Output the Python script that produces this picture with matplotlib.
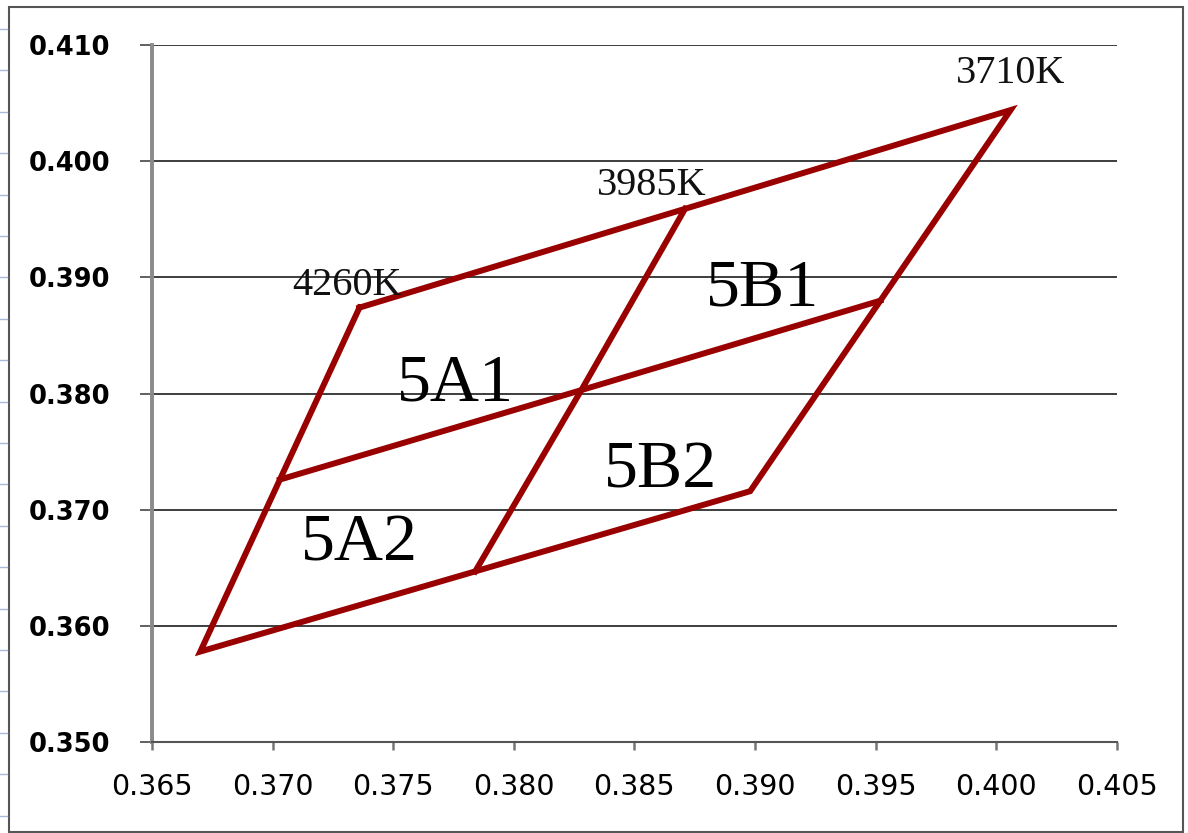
#Import required libraries
import numpy as np
import matplotlib
matplotlib.use("Agg")
import matplotlib.pyplot as plt
from matplotlib.lines import Line2D
from matplotlib.patches import Rectangle

#Chromaticity points (x, y) of the 4000K quadrangle and its split into 4 bins
outer_x = [0.3736, 0.4006, 0.3898, 0.3670, 0.3736]
outer_y = [0.3874, 0.4044, 0.3716, 0.3578, 0.3874]
vert_x = [0.3871, 0.3828, 0.3784]   #top mid -> center -> bottom mid
vert_y = [0.3959, 0.3803, 0.3647]
horiz_x = [0.3703, 0.3828, 0.3952]  #left mid -> center -> right mid
horiz_y = [0.3726, 0.3803, 0.3880]

#CCT labels and bin names
cct_labels = ["4260K", "3985K", "3710K"]
cct_x = [0.3731, 0.3857, 0.4006]
cct_y = [0.3885, 0.3971, 0.4067]
bin_labels = ["5A1", "5B1", "5B2", "5A2"]
bin_x = [0.3776, 0.3903, 0.3861, 0.3736]
bin_y = [0.3794, 0.3876, 0.3719, 0.3656]

x_ticks = [0.365, 0.370, 0.375, 0.380, 0.385, 0.390, 0.395, 0.400, 0.405]
y_ticks = [0.350, 0.360, 0.370, 0.380, 0.390, 0.400, 0.410]

fig = plt.figure(figsize=(11.88, 8.33), dpi=100)
ax = fig.add_axes([0.128, 0.109, 0.812, 0.837])

red = "#990000"
ax.plot(outer_x, outer_y, color=red, lw=4.3, solid_joinstyle="miter")
ax.plot(vert_x, vert_y, color=red, lw=4.3)
ax.plot(horiz_x, horiz_y, color=red, lw=4.3)

for t, x, y in zip(cct_labels, cct_x, cct_y):
    ax.text(x, y, t, ha="center", va="baseline", fontsize=29,
            family="Liberation Serif", color="#111111")
for t, x, y in zip(bin_labels, bin_x, bin_y):
    ax.text(x, y, t, ha="center", va="baseline", fontsize=49,
            family="Liberation Serif", color="black")

#Axes look like an Excel chart
ax.set_xlim(0.365, 0.405)
ax.set_ylim(0.350, 0.410)
ax.set_xticks(x_ticks)
ax.set_yticks(y_ticks)
ax.set_xticklabels([f"{v:.3f}" for v in x_ticks], fontsize=20.5)
ax.set_yticklabels([f"{v:.3f}" for v in y_ticks], fontsize=18.5, fontweight="bold")
ax.yaxis.grid(True, color="#2e2e2e", lw=1.3)
ax.set_axisbelow(True)
for s in ["top", "right"]:
    ax.spines[s].set_visible(False)
ax.spines["left"].set_color("#8a8a8a")
ax.spines["left"].set_linewidth(2.8)
ax.spines["bottom"].set_color("#555555")
ax.spines["bottom"].set_linewidth(1.5)
ax.tick_params(axis="y", length=9, width=1.3, color="#555555", pad=21)
ax.tick_params(axis="x", length=6, width=1.8, color="#777777", pad=16)

#Frame around the picture and sheet row marks
fig.add_artist(Rectangle((0.0076, 0.0012), 0.988, 0.990, transform=fig.transFigure,
                         fill=False, edgecolor="#555555", lw=1.5))
for yp in np.arange(29, 833, 41.4):
    fig.add_artist(Line2D([0, 0.006], [1 - yp / 833, 1 - yp / 833],
                          transform=fig.transFigure, color="#a8b8d8", lw=1))

fig.savefig("out.png", dpi=100)
